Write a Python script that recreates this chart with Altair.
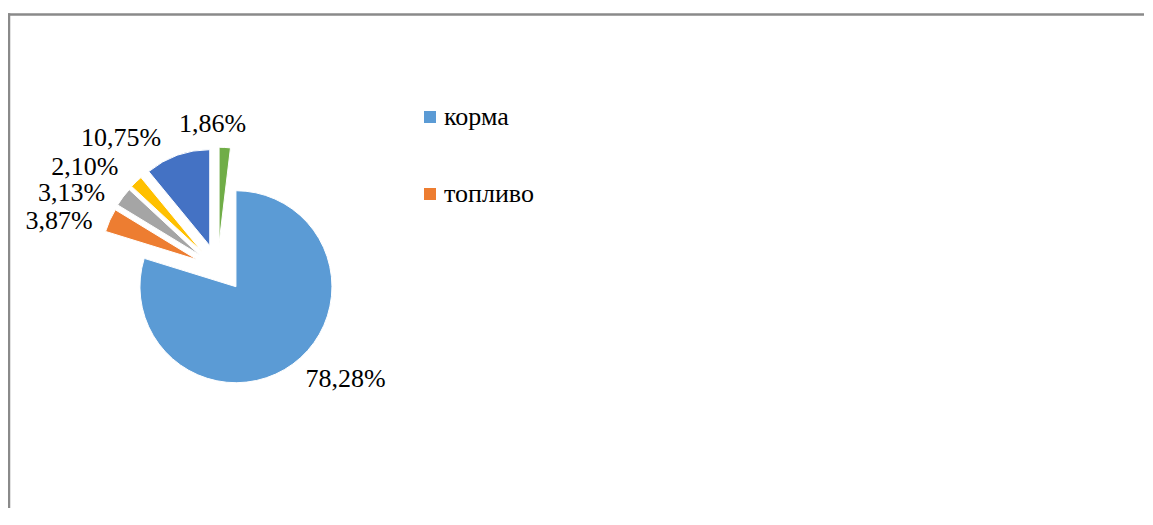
import altair as alt
import pandas as pd

# ---- data ----
categories = ["корма", "топливо", "статья 3", "статья 4", "статья 5", "статья 6"]
shares = [78.28, 3.87, 3.13, 2.10, 10.75, 1.86]
legend_shown = ["корма", "топливо"]

# ---- styles / layout ----
colors = ["#5B9BD5", "#ED7D31", "#A5A5A5", "#FFC000", "#4472C4", "#70AD47"]
W, H = 1136, 500
CX, CY = 212.5, 259.7      # pie centre (view px)
R = 96                     # outer radius
D = 24.5                   # explosion distance
LD = 135                   # label anchor distance
LH = 9                     # half text height shift
GAP = 26                   # min vertical gap between neighbouring labels
FONT = "Liberation Serif"

df = pd.DataFrame({"category": categories, "share": shares, "idx": list(range(len(shares)))})

base = alt.Chart(df).transform_window(
    cum="sum(share)", sort=[alt.SortField("idx", order="ascending")], frame=[None, 0]
).transform_joinaggregate(
    total="sum(share)"
).transform_calculate(
    start="datum.cum - datum.share",
).transform_calculate(
    mid="2*PI*(datum.start + datum.share/2)/datum.total",
).transform_calculate(
    px=f"{CX} + {D}*sin(datum.mid)",
    py=f"{CY} - {D}*cos(datum.mid)",
    lx=f"{CX} + {LD}*sin(datum.mid)",
    ly0=f"{CY} - ({LD}+{LH})*cos(datum.mid)",
    side="sin(datum.mid) > 0.3 ? 'left' : (sin(datum.mid) < -0.3 ? 'right' : 'center')",
    lab="replace(format(datum.share, '.2f'), '.', ',') + '%'",
).transform_window(
    prev="lag(ly0)", groupby=["side"], sort=[alt.SortField("idx", order="ascending")]
).transform_calculate(
    ly=f"datum.prev == null ? datum.ly0 : min(datum.ly0, datum.prev - {GAP})"
)

arcs = base.mark_arc(outerRadius=R, stroke="white", strokeWidth=1).encode(
    x=alt.X("px:Q", scale=None, axis=None),
    y=alt.Y("py:Q", scale=None, axis=None),
    theta=alt.Theta("start:Q"),
    theta2=alt.Theta2("cum:Q"),
    color=alt.Color(
        "category:N",
        scale=alt.Scale(domain=categories, range=colors),
        sort=categories,
        legend=alt.Legend(
            values=legend_shown,
            title=None,
            orient="none",
            legendX=409,
            legendY=96,
            symbolType="square",
            symbolSize=144,
            symbolStrokeWidth=0,
            labelFont=FONT,
            labelFontSize=26,
            labelColor="black",
            labelOffset=1,
            rowPadding=51,
            padding=0,
        ),
    ),
)

def labels(side):
    return base.transform_filter(f"datum.side == '{side}'").mark_text(
        align=side, baseline="middle", font=FONT, fontSize=26, color="black"
    ).encode(
        x=alt.X("lx:Q", scale=None, axis=None),
        y=alt.Y("ly:Q", scale=None, axis=None),
        text="lab:N",
    )

frame_df = pd.DataFrame({"k": [0]})
top_rule = alt.Chart(frame_df).mark_rule(color="#8a8a8a", strokeWidth=2.5).encode(
    x=alt.value(0), x2=alt.value(W), y=alt.value(6.5)
)
left_rule = alt.Chart(frame_df).mark_rule(color="#8a8a8a", strokeWidth=2.5).encode(
    x=alt.value(1), y=alt.value(5.3), y2=alt.value(H)
)

chart = alt.layer(
    top_rule, left_rule, arcs, labels("left"), labels("right"), labels("center")
).properties(
    width=W, height=H, autosize=alt.AutoSizeParams(type="none"), padding=0
).configure_view(stroke=None)

chart.save("out.html", embed_options={"renderer": "svg", "actions": False})
